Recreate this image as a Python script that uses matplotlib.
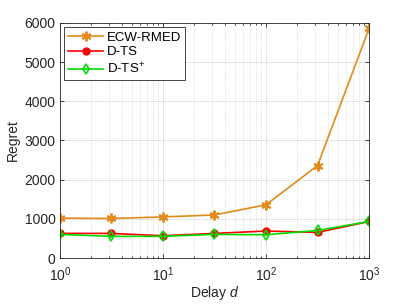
import matplotlib
matplotlib.use("Agg")
import matplotlib.pyplot as plt
from matplotlib.ticker import LogLocator, NullFormatter

plt.rcParams['font.family'] = ['Liberation Sans', 'DejaVu Sans']
plt.rcParams['mathtext.fontset'] = 'custom'
plt.rcParams['mathtext.it'] = 'Liberation Sans:italic'
plt.rcParams['mathtext.rm'] = 'Liberation Sans'

delays = [1, 3.16, 10, 31.6, 100, 316, 1000]
ecw_rmed = [1020, 1010, 1050, 1100, 1360, 2360, 5860]
d_ts = [630, 630, 570, 630, 690, 655, 935]
d_ts_plus = [605, 555, 555, 605, 595, 705, 935]

fig = plt.figure(figsize=(4.07, 3.08), dpi=100)
ax = fig.add_axes([0.147, 0.162, 0.76, 0.764])

ax.plot(delays, ecw_rmed, color='#e28a1a', marker=(6, 2, 0), markersize=7,
        markeredgewidth=1.4, linewidth=1.2, label='ECW-RMED')
ax.plot(delays, d_ts, color='#ff0000', marker='o', markersize=5,
        linewidth=1.2, label='D-TS')
ax.plot(delays, d_ts_plus, color='#00dd00', marker='d', markersize=5,
        markerfacecolor='none', markeredgewidth=1.2, linewidth=1.2,
        label='D-TS$^{+}$')

ax.set_xscale('log')
ax.set_xlim(1, 1000)
ax.set_ylim(0, 6000)
ax.set_yticks([0, 1000, 2000, 3000, 4000, 5000, 6000])
ax.xaxis.set_minor_locator(LogLocator(base=10, subs=range(2, 10)))
ax.xaxis.set_minor_formatter(NullFormatter())

ax.grid(True, which='major', color='#e0e0e0', linewidth=0.6)
ax.grid(True, which='minor', axis='x', color='#d0d0d0', linestyle=':', linewidth=0.6)
ax.set_axisbelow(True)

for s in ax.spines.values():
    s.set_color('#262626')
    s.set_linewidth(0.6)
ax.tick_params(which='both', direction='in', top=True, right=True,
               labelsize=10, colors='#262626', width=0.6)
ax.tick_params(which='major', length=3)
ax.tick_params(which='minor', length=1.5)
ax.tick_params(axis='x', which='major', pad=5.5)
ax.tick_params(axis='y', which='major', pad=3)

ax.set_xlabel('Delay $\\mathit{d}$', fontsize=10, color='#262626', labelpad=0)
ax.set_ylabel('Regret', fontsize=10, color='#262626', labelpad=3)

leg = ax.legend(loc='upper left', fontsize=9.5, fancybox=False, framealpha=1,
                edgecolor='#262626', handlelength=2.6, borderpad=0.3,
                labelspacing=0.2, handletextpad=0.3, borderaxespad=0.35)
leg.get_frame().set_linewidth(0.6)

fig.savefig('out.png', dpi=100)
